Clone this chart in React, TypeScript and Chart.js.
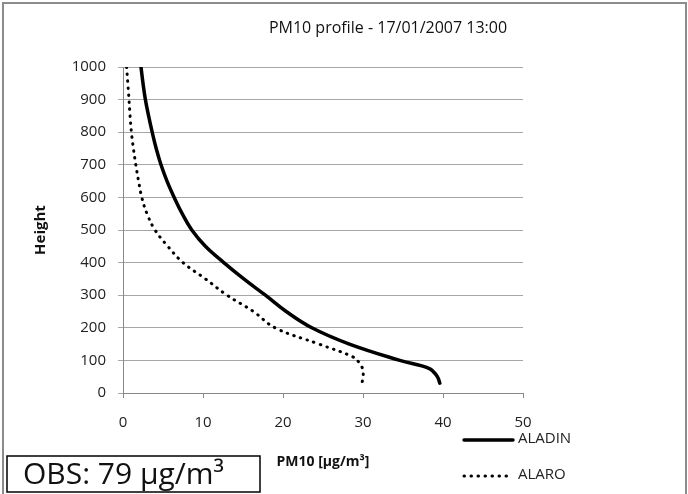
import { useEffect, useRef } from "react";
import { Chart, registerables } from "chart.js";

Chart.register(...registerables);

const chartTitle = "PM10 profile - 17/01/2007 13:00";
const xAxisTitle = "PM10 [µg/m³]";
const yAxisTitle = "Height";
const obsLabel = "OBS: 79 µg/m³";
const seriesNames = ["ALADIN", "ALARO"];

const aladinHeight = [1000, 950, 900, 850, 800, 750, 700, 650, 600, 550, 500, 450, 400, 350, 300, 250, 200, 150, 100, 75, 50, 30];
const aladinPm10 = [2.25, 2.5, 2.8, 3.2, 3.65, 4.15, 4.75, 5.5, 6.4, 7.4, 8.6, 10.3, 12.6, 15.1, 17.8, 20.4, 23.6, 28.3, 34.6, 38.3, 39.3, 39.6];

const alaroHeight = [1000, 950, 900, 850, 800, 750, 700, 650, 600, 550, 500, 450, 400, 350, 300, 250, 200, 150, 110, 90, 70, 50, 34];
const alaroPm10 = [0.45, 0.6, 0.75, 0.88, 1.05, 1.3, 1.6, 1.95, 2.35, 3.0, 4.0, 5.6, 7.5, 10.3, 13.0, 16.3, 19.0, 24.5, 28.8, 29.6, 30.0, 30.0, 29.9];

const xTickValues = [0, 10, 20, 30, 40, 50];
const yTickValues = [0, 100, 200, 300, 400, 500, 600, 700, 800, 900, 1000];

const FONT = "'Open Sans', sans-serif";

const decorPlugin = {
  id: "decor",
  beforeDraw(chart: any) {
    const ctx = chart.ctx;
    ctx.save();
    ctx.fillStyle = "#ffffff";
    ctx.fillRect(0, 0, chart.width, chart.height);
    ctx.strokeStyle = "#8c8c8c";
    ctx.lineWidth = 2;
    ctx.strokeRect(3, 3, 683, 500);
    ctx.restore();
  },
  afterDraw(chart: any) {
    const ctx = chart.ctx;
    ctx.save();
    // title
    ctx.fillStyle = "#111";
    ctx.font = `16px ${FONT}`;
    ctx.textAlign = "center";
    ctx.textBaseline = "middle";
    ctx.fillText(chartTitle, 388, 28);

    // legend
    const legendY = [440, 476];
    chart.data.datasets.forEach((ds: any, i: number) => {
      const y = legendY[i];
      ctx.save();
      ctx.strokeStyle = ds.borderColor;
      ctx.lineWidth = ds.borderWidth;
      ctx.lineCap = ds.borderCapStyle || "butt";
      ctx.setLineDash(ds.borderDash || []);
      ctx.beginPath();
      ctx.moveTo(464, y);
      ctx.lineTo(513, y);
      ctx.stroke();
      ctx.restore();
      ctx.fillStyle = "#222";
      ctx.font = `15px ${FONT}`;
      ctx.textAlign = "left";
      ctx.textBaseline = "middle";
      ctx.fillText(ds.label, 518, y - 1);
    });

    // OBS box
    ctx.strokeStyle = "#000";
    ctx.lineWidth = 1.5;
    ctx.strokeRect(7, 456, 253, 36);
    ctx.fillStyle = "#111";
    ctx.font = `30px ${FONT}`;
    ctx.textAlign = "left";
    ctx.textBaseline = "middle";
    ctx.fillText(obsLabel, 23, 475);
    ctx.restore();
  },
};

export default function App() {
  const ref = useRef<HTMLCanvasElement>(null);
  useEffect(() => {
    if (!ref.current) return;
    const chart = new Chart(ref.current, {
      type: "scatter",
      data: {
        datasets: [
          {
            label: seriesNames[0],
            data: aladinHeight.map((h, i) => ({ x: aladinPm10[i], y: h })),
            showLine: true,
            borderColor: "#000",
            backgroundColor: "#000",
            borderWidth: 3.5,
            borderCapStyle: "round",
            borderJoinStyle: "round",
            pointRadius: 0,
            tension: 0.4,
          },
          {
            label: seriesNames[1],
            data: alaroHeight.map((h, i) => ({ x: alaroPm10[i], y: h })),
            showLine: true,
            borderColor: "#000",
            backgroundColor: "#000",
            borderWidth: 3,
            borderCapStyle: "round",
            borderDash: [0.5, 6.5],
            pointRadius: 0,
            tension: 0.4,
          },
        ],
      },
      options: {
        animation: false,
        responsive: false,
        events: [],
        layout: { padding: { left: 0, top: 67, right: 165, bottom: 0 } },
        plugins: {
          legend: { display: false },
          title: { display: false },
          tooltip: { enabled: false },
        },
        scales: {
          x: {
            type: "linear",
            min: 0,
            max: 50,
            afterBuildTicks: (s: any) => {
              s.ticks = xTickValues.map((v) => ({ value: v }));
            },
            afterFit: (s: any) => {
              s.height = 101;
            },
            grid: {
              drawOnChartArea: false,
              drawTicks: true,
              tickLength: 5,
              color: "#888",
            },
            border: { display: true, color: "#888", width: 1 },
            ticks: {
              padding: 16,
              color: "#222",
              font: { family: FONT, size: 15 },
              maxRotation: 0,
              callback: (v: any) => String(v),
            },
            title: {
              display: true,
              text: xAxisTitle,
              color: "#111",
              font: { family: FONT, size: 14, weight: "bold" },
              padding: { top: 0, bottom: 24 },
            },
          },
          y: {
            type: "linear",
            min: 0,
            max: 1000,
            afterBuildTicks: (s: any) => {
              s.ticks = yTickValues.map((v) => ({ value: v }));
            },
            afterFit: (s: any) => {
              s.width = 123;
            },
            grid: {
              drawOnChartArea: true,
              drawTicks: true,
              tickLength: 5,
              color: "#a6a6a6",
            },
            border: { display: true, color: "#888", width: 1 },
            ticks: {
              padding: 12,
              color: "#222",
              font: { family: FONT, size: 15 },
              callback: (v: any) => String(v),
            },
            title: {
              display: true,
              text: yAxisTitle,
              color: "#111",
              font: { family: FONT, size: 15, weight: "bold" },
              padding: { top: 32, bottom: 0 },
            },
          },
        },
      },
      plugins: [decorPlugin],
    } as any);
    return () => chart.destroy();
  }, []);
  return (
    <div style={{ position: "absolute", left: 0, top: 0, width: 688, height: 494 }}>
      <canvas ref={ref} width={688} height={494} style={{ width: 688, height: 494, display: "block" }} />
    </div>
  );
}
